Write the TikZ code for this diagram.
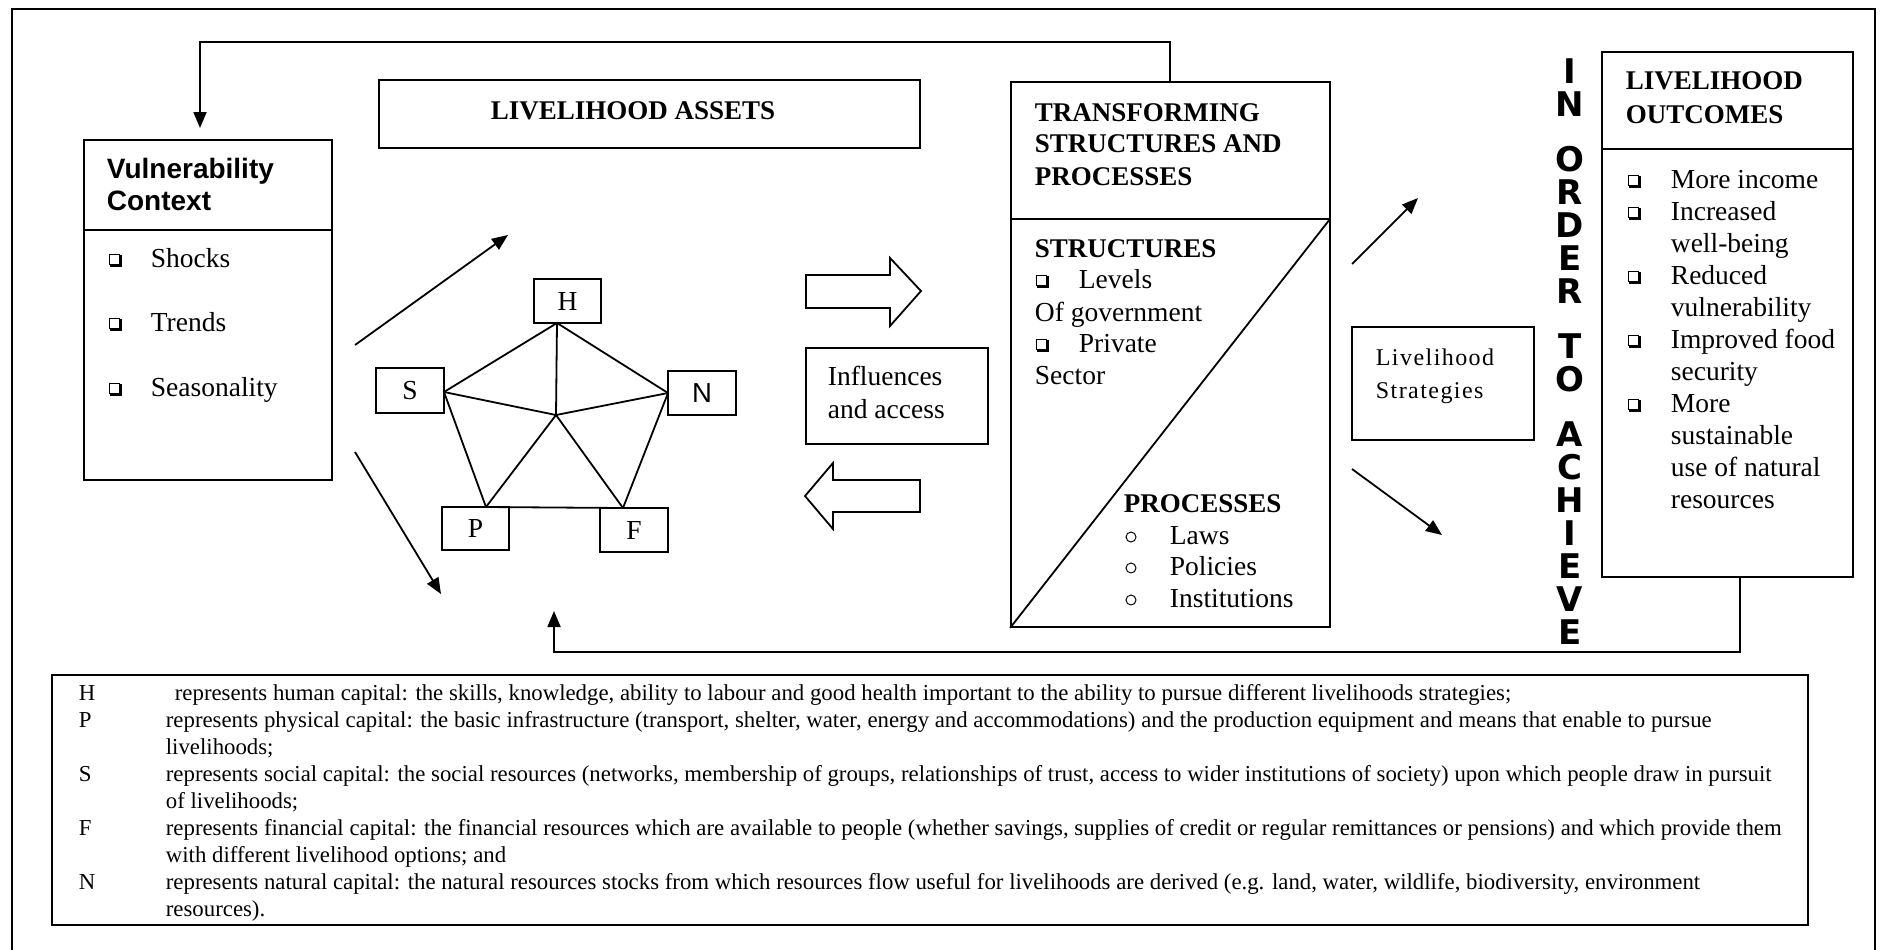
\documentclass[tikz,border=0pt]{standalone}
\usepackage{fontspec}
\setmainfont{Liberation Serif}
\newfontfamily\sansf{Liberation Sans}
\newfontfamily\ordf{DejaVu Sans}
\newfontfamily\lsf[LetterSpace=6]{Liberation Serif}
\usetikzlibrary{arrows.meta,fit}
\begin{document}
\begin{tikzpicture}[x=0.5pt,y=-0.5pt,line width=0.9pt,
  bx/.style={draw,inner sep=0pt,line width=0.9pt},
  bodytxt/.style={anchor=base west,inner sep=0pt,font=\fontsize{13.75}{16}\selectfont},
  btitle/.style={anchor=base west,inner sep=0pt,font=\fontsize{13.5}{16}\selectfont\bfseries},
  vtitle/.style={anchor=base west,inner sep=0pt,font=\fontsize{14}{16}\selectfont\sansf\bfseries},
  lstxt/.style={anchor=base west,inner sep=0pt,font=\fontsize{12}{14}\selectfont\lsf},
  legtxt/.style={anchor=base west,inner sep=0pt,font=\fontsize{11.4}{13}\selectfont},
  ordtxt/.style={anchor=center,inner sep=0pt,font=\fontsize{17}{17}\selectfont\ordf\bfseries},
  pent/.style={inner sep=0pt,font=\fontsize{13.75}{16}\selectfont},
  arr/.style={-{Triangle[length=8pt,width=6.5pt]}},
  chk/.pic={\draw[line width=0.5pt] (-5,-5) rectangle (5,5);
            \draw[line width=1.2pt] (-4,6.3) -- (6.3,6.3) -- (6.3,-4);},
  bul/.pic={\draw[line width=0.5pt] (0,0) circle[radius=5];}
]
\useasboundingbox (0,0) rectangle (1880,949);
% outer frame
\draw[line width=1pt] (12,960) -- (12,9) -- (1875,9) -- (1875,960);

% Vulnerability context
\node[bx,fit={(84,140)(332,480)}] (vul) {};
\coordinate (vdl) at (84,230); \coordinate (vdr) at (332,230);
\draw (vdl) -- (vdr);
\node[vtitle] (vt1) at (106,178) {Vulnerability};
\node[vtitle] (vt2) at (106,210) {Context};
\pic at (114,259) {chk}; \node[bodytxt] (v1) at (150,267) {Shocks};
\pic at (114,323) {chk}; \node[bodytxt] (v2) at (150,331) {Trends};
\pic at (114,388) {chk}; \node[bodytxt] (v3) at (150,396) {Seasonality};

% Livelihood assets
\node[bx,fit={(379,80)(920,148)}] (la) {};
\node[btitle,anchor=base west] (lat) at (490,119) {LIVELIHOOD ASSETS};

% pentagon
\node[bx,fit={(534,279)(601,323)}] (H) {};
\node[bx,fit={(376,368)(444,413)}] (S) {};
\node[bx,fit={(668,371)(736,415)}] (N) {};
\node[bx,fit={(442,507)(509,550)}] (P) {};
\node[bx,fit={(600,508)(668,552)}] (F) {};
\node[pent] (Ht) at (H.center) {H};
\node[pent] (St) at (S.center) {S};
\node[pent,font=\fontsize{13.75}{16}\selectfont\sansf] (Nt) at (N.center) {N};
\node[pent] (Pt) at (P.center) {P};
\node[pent] (Ft) at (F.center) {F};
\coordinate (hv) at (557,323);
\coordinate (sv) at (444,392);
\coordinate (nv) at (668,393);
\coordinate (pv) at (486,507);
\coordinate (fv) at (623,508);
\coordinate (ctr) at (556,415);
\draw (hv) -- (sv) -- (pv) -- (fv) -- (nv) -- cycle;
\draw (ctr) -- (hv) (ctr) -- (sv) (ctr) -- (nv) (ctr) -- (pv) (ctr) -- (fv);

% arrows from vulnerability
\coordinate (va1) at (355,345); \coordinate (va2) at (508,235);
\coordinate (vb1) at (355,452); \coordinate (vb2) at (441,594);
\draw[arr] (va1) -- (va2);
\draw[arr] (vb1) -- (vb2);

% hollow arrows
\draw (806,275) -- (890,275) -- (890,258) -- (921,291) -- (890,326) -- (890,308) -- (806,308) -- cycle;
\draw (920,480) -- (833,480) -- (833,463) -- (805,496) -- (833,529) -- (833,512) -- (920,512) -- cycle;

% influences
\node[bx,fit={(806,348)(988,444)}] (inf) {};
\node[bodytxt] (inf1) at (827,385) {Influences};
\node[bodytxt] (inf2) at (827,418) {and access};

% transforming structures
\node[bx,fit={(1011,82)(1330,627)}] (trans) {};
\coordinate (tdl) at (1011,219); \coordinate (tdr) at (1330,219);
\draw (tdl) -- (tdr);
\draw (trans.south west) -- (tdr);
\node[btitle] (tt1) at (1034,121) {TRANSFORMING};
\node[btitle] (tt2) at (1034,152) {STRUCTURES AND};
\node[btitle] (tt3) at (1034,185) {PROCESSES};
\node[btitle] (st) at (1034,257) {STRUCTURES};
\pic at (1041,280) {chk}; \node[bodytxt] (s1) at (1078,288) {Levels};
\node[bodytxt] (s2) at (1034,321) {Of government};
\pic at (1041,344) {chk}; \node[bodytxt] (s3) at (1078,352) {Private};
\node[bodytxt] (s4) at (1034,384) {Sector};
\node[btitle] (pr) at (1123,512) {PROCESSES};
\pic at (1131,537) {bul}; \node[bodytxt] (p1) at (1169,544) {Laws};
\pic at (1131,568) {bul}; \node[bodytxt] (p2) at (1169,575) {Policies};
\pic at (1131,600) {bul}; \node[bodytxt] (p3) at (1169,607) {Institutions};

% arrows to/from strategies
\coordinate (ra1) at (1352,264); \coordinate (ra2) at (1418,198);
\coordinate (rb1) at (1352,469); \coordinate (rb2) at (1442,535);
\draw[arr] (ra1) -- (ra2);
\draw[arr] (rb1) -- (rb2);

% livelihood strategies
\node[bx,fit={(1352,327)(1534,440)}] (ls) {};
\node[lstxt] (ls1) at (1375,365) {Livelihood};
\node[lstxt] (ls2) at (1375,398) {Strategies};

% IN ORDER TO ACHIEVE
\foreach \ch/\yy [count=\i] in {I/71,N/104,O/159,R/192,D/225,E/258,R/291,T/346,O/379,A/434,C/467,H/500,I/533,E/566,V/599,E/632}
  \node[ordtxt] (ord\i) at (1570,\yy) {\ch};

% livelihood outcomes
\node[bx,fit={(1602,52)(1853,577)}] (out) {};
\coordinate (odl) at (1602,149); \coordinate (odr) at (1853,149);
\draw (odl) -- (odr);
\node[btitle] (ot1) at (1625,89) {LIVELIHOOD};
\node[btitle] (ot2) at (1625,123) {OUTCOMES};
\pic at (1633,180) {chk}; \node[bodytxt] (o1) at (1670,188) {More income};
\pic at (1633,212) {chk}; \node[bodytxt] (o2) at (1670,220) {Increased};
\node[bodytxt] (o3) at (1670,252) {well-being};
\pic at (1633,276) {chk}; \node[bodytxt] (o4) at (1670,284) {Reduced};
\node[bodytxt] (o5) at (1670,316) {vulnerability};
\pic at (1633,340) {chk}; \node[bodytxt] (o6) at (1670,348) {Improved food};
\node[bodytxt] (o7) at (1670,380) {security};
\pic at (1633,404) {chk}; \node[bodytxt] (o8) at (1670,412) {More};
\node[bodytxt] (o9) at (1670,444) {sustainable};
\node[bodytxt] (o10) at (1670,476) {use of natural};
\node[bodytxt] (o11) at (1670,508) {resources};

% feedback loops
\coordinate (tf0) at (1170,82); \coordinate (tfc) at (200,42); \coordinate (tfa) at (200,128);
\draw[arr] (tf0) |- (tfc) -- (tfa);
\coordinate (bf0) at (1740,577); \coordinate (bfc) at (554,652); \coordinate (bfa) at (554,611);
\draw[arr] (bf0) |- (bfc) -- (bfa);

% legend
\node[bx,fit={(52,675)(1808,925)}] (leg) {};
\node[legtxt] (lH) at (78,700) {H};
\node[legtxt] (lP) at (78,727) {P};
\node[legtxt] (lS) at (78,781) {S};
\node[legtxt] (lF) at (78,835) {F};
\node[legtxt] (lN) at (78,889) {N};
\node[legtxt] (l0) at (174,700) {represents human capital: the skills, knowledge, ability to labour and good health important to the ability to pursue different livelihoods strategies;};
\node[legtxt] (l1) at (165,727) {represents physical capital: the basic infrastructure (transport, shelter, water, energy and accommodations) and the production equipment and means that enable to pursue};
\node[legtxt] (l2) at (165,754) {livelihoods;};
\node[legtxt] (l3) at (165,781) {represents social capital: the social resources (networks, membership of groups, relationships of trust, access to wider institutions of society) upon which people draw in pursuit};
\node[legtxt] (l4) at (165,808) {of livelihoods;};
\node[legtxt] (l5) at (165,835) {represents financial capital: the financial resources which are available to people (whether savings, supplies of credit or regular remittances or pensions) and which provide them};
\node[legtxt] (l6) at (165,862) {with different livelihood options; and};
\node[legtxt] (l7) at (165,889) {represents natural capital: the natural resources stocks from which resources flow useful for livelihoods are derived (e.g. land, water, wildlife, biodiversity, environment};
\node[legtxt] (l8) at (165,916) {resources).};
\end{tikzpicture}
\end{document}
